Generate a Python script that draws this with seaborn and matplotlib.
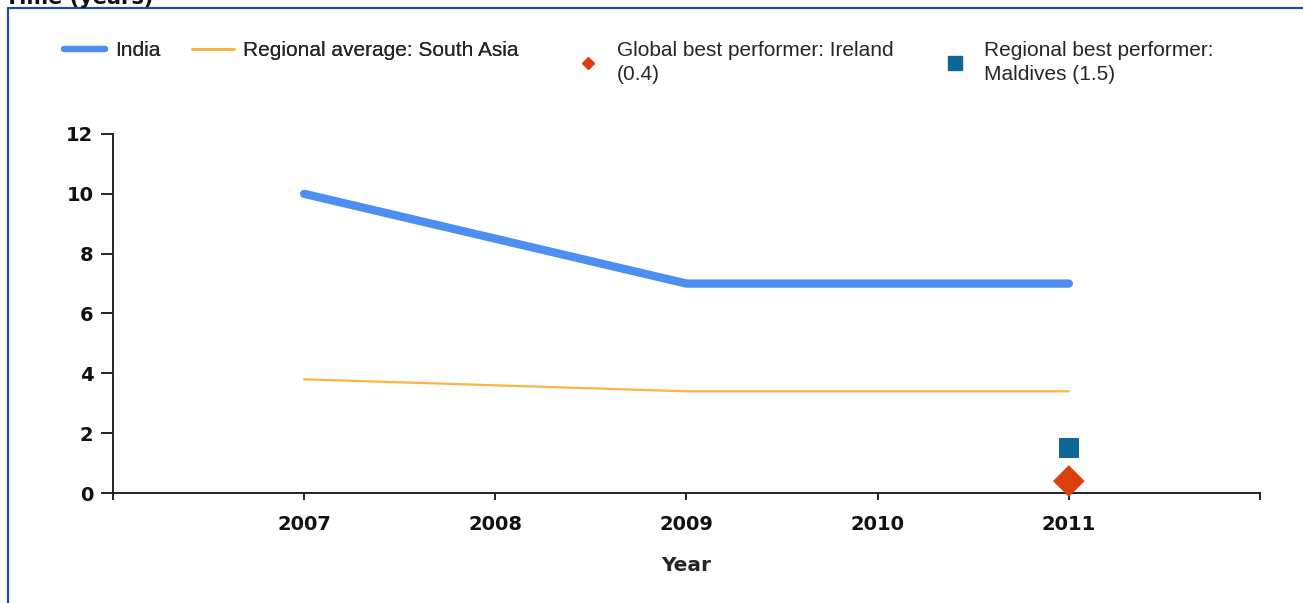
import matplotlib
matplotlib.use('Agg')
import matplotlib.pyplot as plt
from matplotlib.lines import Line2D
import seaborn as sns
import pandas as pd

# data
years = [2007, 2009, 2011]
india = [10, 7, 7]
south_asia = [3.8, 3.4, 3.4]
best_year = [2011]
ireland = [0.4]
maldives = [1.5]
xticks = [2006, 2007, 2008, 2009, 2010, 2011, 2012]
xticklabels = ['', '2007', '2008', '2009', '2010', '2011', '']
yticks = [0, 2, 4, 6, 8, 10, 12]

c_india = '#4d8ff0'
c_avg = '#fbb444'
c_glob = '#dc3f0c'
c_reg = '#0e6699'

df = pd.DataFrame({'year': years, 'india': india, 'avg': south_asia})
best = pd.DataFrame({'year': best_year, 'ireland': ireland, 'maldives': maldives})

sns.set_style('white')
plt.rcParams['font.family'] = ['DejaVu Sans']

fig = plt.figure(figsize=(13.03, 6.03), dpi=100)
ax = fig.add_axes([0.0867, 0.1824, 0.8803, 0.5954])

sns.lineplot(data=df, x='year', y='india', ax=ax, color=c_india, linewidth=6,
             solid_capstyle='round')
sns.lineplot(data=df, x='year', y='avg', ax=ax, color=c_avg, linewidth=1.6)
sns.scatterplot(data=best, x='year', y='maldives', ax=ax, marker='s', s=210,
                color=c_reg, edgecolor='none', zorder=5)
sns.scatterplot(data=best, x='year', y='ireland', ax=ax, marker='D', s=260,
                color=c_glob, edgecolor='none', zorder=5, clip_on=False)

ax.set_xlim(2006, 2012)
ax.set_ylim(0, 12)
ax.set_xticks(xticks)
ax.set_xticklabels(xticklabels)
ax.set_yticks(yticks)
for lab in ax.get_xticklabels() + ax.get_yticklabels():
    lab.set_fontweight('bold')
    lab.set_fontsize(14)
    lab.set_color('#111111')
ax.tick_params(axis='y', direction='out', length=9, width=1.4, color='#222222',
               left=True, pad=5)
ax.tick_params(axis='x', direction='out', length=5, width=1.4, color='#222222',
               bottom=True, pad=11)
sns.despine(ax=ax)
for s in ['left', 'bottom']:
    ax.spines[s].set_linewidth(1.4)
    ax.spines[s].set_color('#222222')
ax.set_xlabel('Year', fontsize=14.5, fontweight='bold', labelpad=16)
ax.set_ylabel('')

# legend along the top: two groups so single-line labels sit at the top
leg_font = {'family': 'Liberation Sans', 'size': 15}
h1 = [Line2D([], [], color=c_india, linewidth=4.5),
      Line2D([], [], color=c_avg, linewidth=2)]
l1 = ['India', 'Regional average: South Asia']
h2 = [Line2D([], [], color=c_glob, marker='D', markersize=6.5, linestyle='none'),
      Line2D([], [], color=c_reg, marker='s', markersize=10, linestyle='none')]
l2 = ['Global best performer: Ireland\n(0.4)',
      'Regional best performer:\nMaldives (1.5)']
leg1 = fig.legend(h1, l1, loc='upper left', bbox_to_anchor=(0.0425, 0.945), ncol=2,
                  frameon=False, prop=leg_font, handlelength=2.0,
                  handletextpad=0.45, columnspacing=1.55, borderaxespad=0)
fig.add_artist(leg1)
leg2 = fig.legend(h2, l2, loc='upper left', bbox_to_anchor=(0.4285, 0.945), ncol=2,
                  frameon=False, prop=leg_font, handlelength=2.0, handletextpad=0.4,
                  columnspacing=1.95, borderaxespad=0)
for t in leg2.get_texts():
    t.set_linespacing(1.3)

# frame (left and top only) and cut-off title
fig.add_artist(Line2D([0.0058, 0.0058], [0.0, 0.9865], transform=fig.transFigure,
                      color='#1a5296', linewidth=1.6))
fig.add_artist(Line2D([0.0058, 1.0], [0.9865, 0.9865], transform=fig.transFigure,
                      color='#1a5296', linewidth=1.6))
fig.text(0.004, 0.994, 'Time (years)', fontsize=15, fontweight='bold',
         ha='left', va='baseline', color='#111111')

fig.savefig('out.png', dpi=100)
